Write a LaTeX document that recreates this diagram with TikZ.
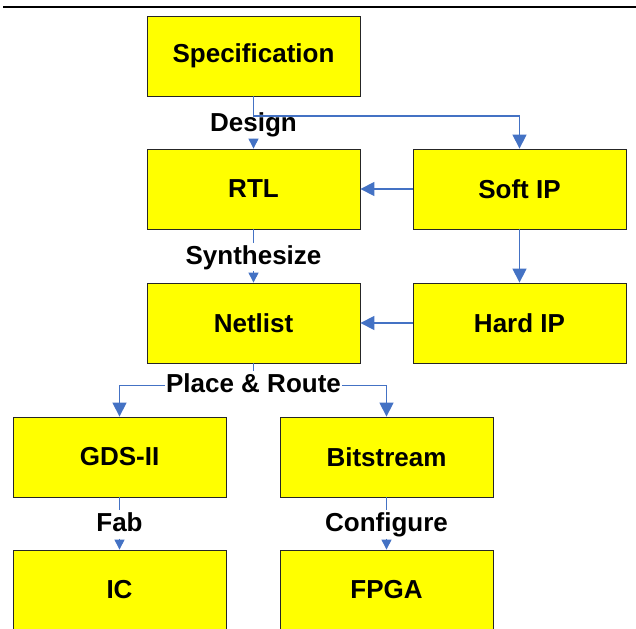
\documentclass[tikz,border=0pt]{standalone}
\usepackage{fontspec}
\setmainfont{Liberation Sans}
\usepackage{tikz}
\usetikzlibrary{arrows.meta}
\definecolor{boxfill}{HTML}{FFFF00}
\definecolor{flowblue}{HTML}{4472C4}
\newcommand{\bigfont}{\bfseries\fontsize{26bp}{30bp}\selectfont}
\tikzset{
  box/.style={draw=black!85, line width=0.8bp, fill=boxfill, minimum width=213bp, minimum height=80bp, font=\bigfont},
  lab/.style={font=\bigfont, inner xsep=1bp, inner ysep=2bp, text height=19bp, text depth=5bp, anchor=base},
  link/.style={draw=flowblue, line width=1bp},
  flow/.style={link, -{Triangle[width=10bp,length=10bp]}},
  bigflow/.style={link, line width=1.3bp, -{Triangle[width=14bp,length=14bp]}}
}

\begin{document}
\begin{tikzpicture}[x=1bp, y=-1bp]
  \useasboundingbox (0,0) rectangle (636,629);
  \draw[line width=2bp] (3,7) -- (636,7);

  % boxes
  \node[box] (spec) at (253.5,56) {Specification};
  \node[box] (rtl) at (253.5,189) {RTL};
  \node[box] (softip) at (519.5,189) {Soft IP};
  \node[box] (netlist) at (253.5,323) {Netlist};
  \node[box] (hardip) at (519.5,323) {Hard IP};
  \node[box] (gds) at (119.5,457) {GDS-II};
  \node[box] (bits) at (386.5,457) {Bitstream};
  \node[box] (ic) at (119.5,590) {IC};
  \node[box] (fpga) at (386.5,590) {FPGA};

  % step labels
  \node[lab] (design) at (253.5,131.5) {Design};
  \node[lab] (synth) at (253.5,264) {Synthesize};
  \node[lab] (pr) at (253.5,392.5) {Place \& Route};
  \node[lab] (fab) at (119.5,531.5) {Fab};
  \node[lab] (conf) at (386.5,531.5) {Configure};

  % flow
  \draw[link] (spec) -- (design);
  \draw[flow] (design) -- (rtl);
  \coordinate (split) at (253.5,116);
  \draw[bigflow] (spec.south) -- (split) -| (softip.north);
  \draw[bigflow] (softip) -- (rtl);
  \draw[bigflow] (softip) -- (hardip);
  \draw[bigflow] (hardip) -- (netlist);
  \draw[link] (rtl) -- (synth);
  \draw[flow] (synth) -- (netlist);
  \draw[link] (netlist) -- (pr);
  \draw[bigflow] (pr.west) -| (gds.north);
  \draw[bigflow] (pr.east) -| (bits.north);
  \draw[link] (gds) -- (fab);
  \draw[flow] (fab) -- (ic);
  \draw[link] (bits) -- (conf);
  \draw[flow] (conf) -- (fpga);
\end{tikzpicture}
\end{document}
